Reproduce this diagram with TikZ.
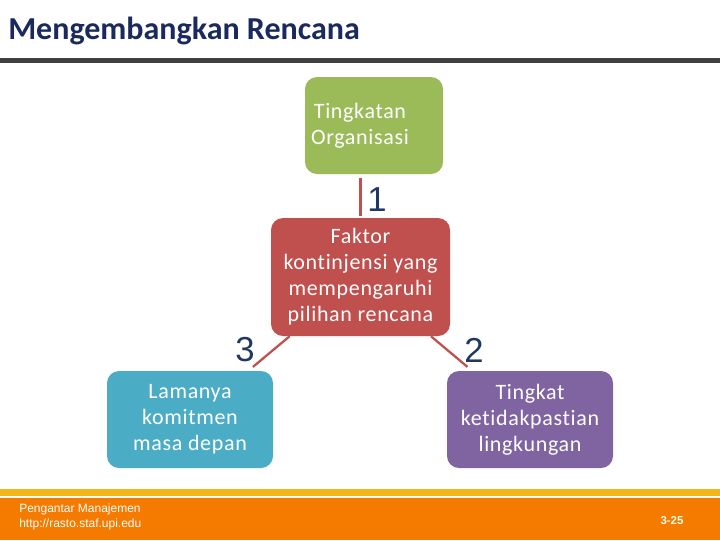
\documentclass[tikz,border=0pt]{standalone}
\usepackage{fontspec}
\setmainfont{Carlito}[Ligatures=NoCommon]
\newfontfamily\boxfont{Carlito}[Ligatures=NoCommon, LetterSpace=3]
\newfontfamily\numfont{Liberation Sans}
\usepackage{xcolor}
\usepackage{tikz}

\definecolor{titlenavy}{HTML}{1B2A5C}
\definecolor{numnavy}{HTML}{1F3864}
\definecolor{bargrey}{HTML}{404040}
\definecolor{orggreen}{HTML}{9BBB59}
\definecolor{factred}{HTML}{C0504D}
\definecolor{commitblue}{HTML}{4BACC6}
\definecolor{uncpurple}{HTML}{8064A2}
\definecolor{footyellow}{HTML}{F2B817}
\definecolor{footorange}{HTML}{F47A00}

\tikzset{
  box/.style={rounded corners=9pt, draw=none, text=white, align=center,
    font=\boxfont\fontsize{16.5}{19.5}\selectfont, inner sep=0pt},
  boxtext/.style={text=white, align=center, font=\boxfont\fontsize{16.5}{19.5}\selectfont, inner sep=0pt},
  link/.style={draw=factred, line width=1.7pt},
  num/.style={text=numnavy, font=\numfont\fontsize{26}{26}\selectfont, inner sep=0pt},
  foot/.style={text=white, font=\numfont\fontsize{9}{11}\selectfont, inner sep=0pt}
}

\begin{document}
\begin{tikzpicture}[x=0.75pt,y=0.75pt,yscale=-1,xscale=1]
\useasboundingbox (0,0) rectangle (720,540);
% Title
\node[anchor=west, text=titlenavy, inner sep=0pt, font=\bfseries\fontsize{24}{28}\selectfont] (title) at (8,31) {Mengembangkan Rencana};
%Shape: Rectangle (title bar)
\fill[bargrey] (0,57.5) rectangle (720,62.5);
%Shape: Footer
\fill[footyellow] (0,489) rectangle (720,496);
\fill[footorange] (0,497.5) rectangle (720,540);
% Footer Text
\node[foot, anchor=west] (course) at (19,509) {Pengantar Manajemen};
\node[foot, anchor=west] (site) at (19,524) {http://rasto.staf.upi.edu};
\node[foot, text=white!90!yellow, font=\numfont\bfseries\fontsize{8.6}{11}\selectfont] (page) at (672,521) {3-25};
%Shape: Rounded boxes
\node[box, fill=orggreen, minimum width=103.5pt, minimum height=72.75pt] (org) at (374,125.5) {};
\node[boxtext] (orgtext) at (360,125.5) {Tingkatan\\Organisasi};
\node[box, fill=factred, minimum width=134.25pt, minimum height=88.5pt] (fact) at (360.5,277) {Faktor\\kontinjensi yang\\mempengaruhi\\pilihan rencana};
\node[box, fill=commitblue, minimum width=124.5pt, minimum height=72.75pt] (commit) at (190,419.5) {Lamanya\\komitmen\\masa depan};
\node[box, fill=uncpurple, minimum width=124.5pt, minimum height=72.75pt] (unc) at (530,419.5) {Tingkat\\ketidakpastian\\lingkungan};
%Straight Lines
\draw[link, shorten <=1.5pt, shorten >=3pt] (fact.north) -- (fact.north |- org.south);
\draw[link, shorten >=4.5pt] (fact) -- (commit);
\draw[link, shorten >=4.5pt] (fact) -- (unc);
% Number labels
\node[num] (one) at (377,200) {1};
\node[num] (two) at (474,350) {2};
\node[num] (three) at (245,350) {3};
\end{tikzpicture}
\end{document}
